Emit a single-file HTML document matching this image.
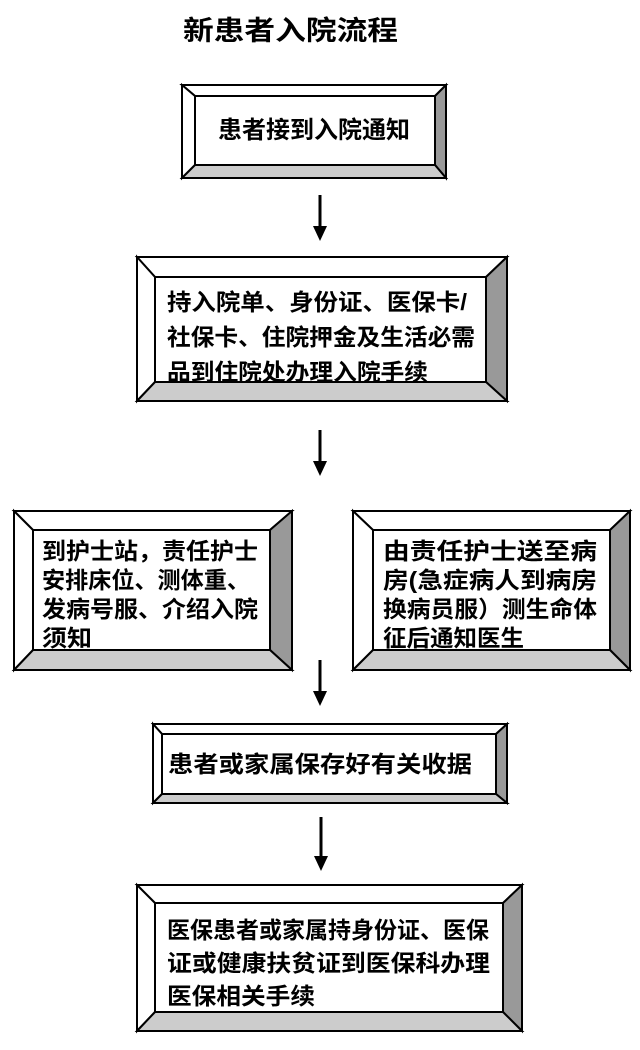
<!DOCTYPE html>
<html><head><meta charset="utf-8"><style>
html,body{margin:0;padding:0;background:#fff}
svg{display:block}
text{font-family:"Liberation Sans","Noto Sans CJK SC","WenQuanYi Zen Hei",sans-serif;font-weight:bold;fill:#000}
</style></head><body>
<svg width="640" height="1050" viewBox="0 0 640 1050" xmlns="http://www.w3.org/2000/svg">
<text x="183" y="40" font-size="27" textLength="215" lengthAdjust="spacingAndGlyphs">新患者入院流程</text>

<g stroke="#000" stroke-width="2" stroke-linejoin="miter">
<!-- box1 -->
<polygon points="182,85 446,85 435,96 195,96" fill="#fff"/>
<polygon points="182,85 195,96 195,165 182,178" fill="#fff"/>
<polygon points="446,85 446,178 435,165 435,96" fill="#999"/>
<polygon points="182,178 195,165 435,165 446,178" fill="#ccc"/>
<rect x="195" y="96" width="240" height="69" fill="#fff"/>
<!-- box2 -->
<polygon points="137,257 507,257 486,277 155,277" fill="#fff"/>
<polygon points="137,257 155,277 155,382 137,401" fill="#fff"/>
<polygon points="507,257 507,401 486,382 486,277" fill="#999"/>
<polygon points="137,401 155,382 486,382 507,401" fill="#ccc"/>
<rect x="155" y="277" width="331" height="105" fill="#fff"/>
<!-- box3 left -->
<polygon points="14,511 292,511 270,530 33,530" fill="#fff"/>
<polygon points="14,511 33,530 33,650 14,670" fill="#fff"/>
<polygon points="292,511 292,670 270,650 270,530" fill="#999"/>
<polygon points="14,670 33,650 270,650 292,670" fill="#ccc"/>
<rect x="33" y="530" width="237" height="120" fill="#fff"/>
<!-- box3 right -->
<polygon points="353,511 630,511 610,530 373,530" fill="#fff"/>
<polygon points="353,511 373,530 373,650 353,670" fill="#fff"/>
<polygon points="630,511 630,670 610,650 610,530" fill="#999"/>
<polygon points="353,670 373,650 610,650 630,670" fill="#ccc"/>
<rect x="373" y="530" width="237" height="120" fill="#fff"/>
<!-- box4 -->
<polygon points="153,724 507,724 496,734 162,734" fill="#fff"/>
<polygon points="153,724 162,734 162,794 153,803" fill="#fff"/>
<polygon points="507,724 507,803 496,794 496,734" fill="#999"/>
<polygon points="153,803 162,794 496,794 507,803" fill="#ccc"/>
<rect x="162" y="734" width="334" height="60" fill="#fff"/>
<!-- box5 -->
<polygon points="137,885 522,885 503,903 155,903" fill="#fff"/>
<polygon points="137,885 155,903 155,1012 137,1031" fill="#fff"/>
<polygon points="522,885 522,1031 503,1012 503,903" fill="#999"/>
<polygon points="137,1031 155,1012 503,1012 522,1031" fill="#ccc"/>
<rect x="155" y="903" width="348" height="109" fill="#fff"/>
</g>

<g stroke="#000" stroke-width="3">
<line x1="320" y1="195" x2="320" y2="228"/>
<line x1="320" y1="430" x2="320" y2="463"/>
<line x1="320" y1="660" x2="320" y2="693"/>
<line x1="321" y1="817" x2="321" y2="858"/>
</g>
<g fill="#000">
<polygon points="313,226 327,226 320,241"/>
<polygon points="313,461 327,461 320,476"/>
<polygon points="313,691 327,691 320,706"/>
<polygon points="314,856 328,856 321,871"/>
</g>

<text x="218" y="138" font-size="24" textLength="192" lengthAdjust="spacingAndGlyphs">患者接到入院通知</text>

<text x="167" y="310" font-size="23" textLength="300" lengthAdjust="spacingAndGlyphs">持入院单、身份证、医保卡/</text>
<text x="167" y="345" font-size="23" textLength="308" lengthAdjust="spacingAndGlyphs">社保卡、住院押金及生活必需</text>
<text x="167" y="380" font-size="23" textLength="261" lengthAdjust="spacingAndGlyphs">品到住院处办理入院手续</text>

<text x="42" y="559" font-size="23" textLength="216" lengthAdjust="spacingAndGlyphs">到护士站，责任护士</text>
<text x="42" y="588" font-size="23" textLength="208" lengthAdjust="spacingAndGlyphs">安排床位、测体重、</text>
<text x="42" y="617" font-size="23" textLength="216" lengthAdjust="spacingAndGlyphs">发病号服、介绍入院</text>
<text x="42" y="646" font-size="23" textLength="50" lengthAdjust="spacingAndGlyphs">须知</text>

<text x="383" y="559" font-size="23" textLength="214" lengthAdjust="spacingAndGlyphs">由责任护士送至病</text>
<text x="383" y="588" font-size="23" textLength="214" lengthAdjust="spacingAndGlyphs">房(急症病人到病房</text>
<text x="383" y="617" font-size="23" textLength="214" lengthAdjust="spacingAndGlyphs">换病员服）测生命体</text>
<text x="383" y="646" font-size="23" textLength="141" lengthAdjust="spacingAndGlyphs">征后通知医生</text>

<text x="168" y="772" font-size="23" textLength="304" lengthAdjust="spacingAndGlyphs">患者或家属保存好有关收据</text>

<text x="167" y="938" font-size="23" textLength="322" lengthAdjust="spacingAndGlyphs">医保患者或家属持身份证、医保</text>
<text x="167" y="971" font-size="23" textLength="323" lengthAdjust="spacingAndGlyphs">证或健康扶贫证到医保科办理</text>
<text x="167" y="1004" font-size="23" textLength="148" lengthAdjust="spacingAndGlyphs">医保相关手续</text>
</svg>
</body></html>
